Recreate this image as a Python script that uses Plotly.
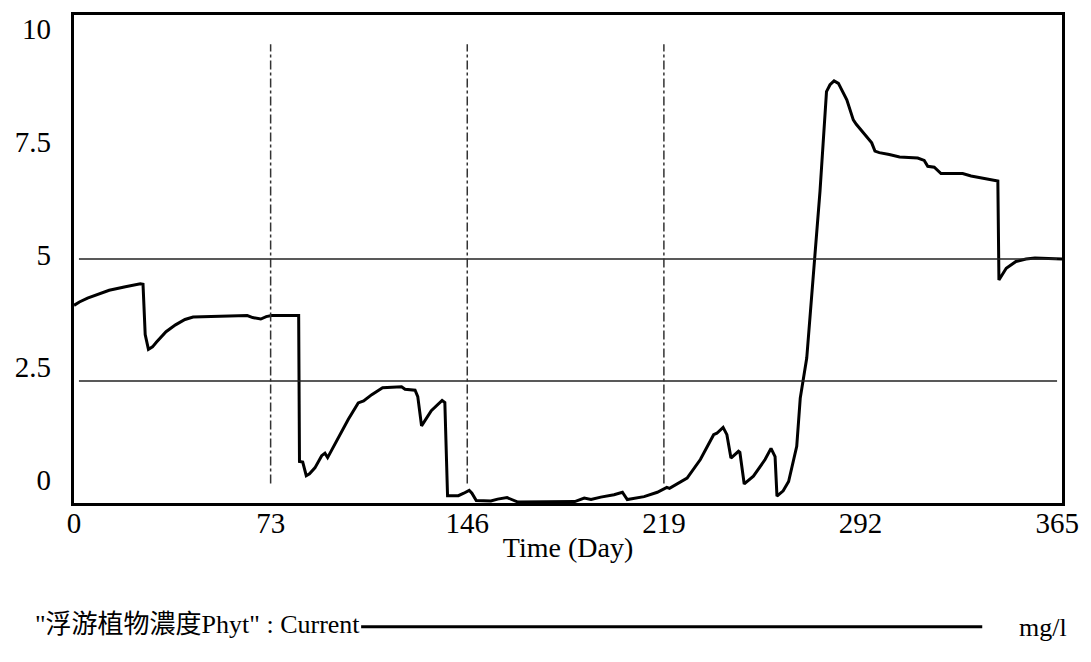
import plotly.graph_objects as go

# Simulated phytoplankton concentration over one year (Day, mg/l)
days = [0, 2, 5, 9, 13, 19, 24.5, 25.5, 26.3, 27.5, 29, 30.5, 34, 37.5, 41, 44,
        56, 64, 66, 69, 71, 73, 83, 83.3, 84.5, 85.8, 87, 89, 91.5, 92.7, 93.7,
        97.6, 101.3, 105, 107, 110, 114, 121, 122.3, 126, 127, 128.4, 132, 136,
        137, 138, 142, 144, 146, 147, 148.6, 154, 156.5, 160, 161.5, 164, 185,
        188.5, 191, 194.6, 199.5, 202.6, 204.4, 210.6, 215.5, 219, 220, 223,
        226.5, 231.4, 236.3, 237.5, 239.8, 241.2, 242.7, 245.5, 246, 247.6, 251,
        255.3, 257.5, 259, 259.7, 262, 264, 267, 268.3, 270.7, 273.8, 275.6,
        278, 279.3, 280.8, 282.4, 285.5, 287.9, 289, 291.6, 294.7, 295.9, 297.5,
        301.2, 305, 311.7, 314.1, 315.4, 317.8, 320.3, 328.3, 331.4, 334.5,
        338.2, 341.3, 341.7, 344.4, 348, 351.7, 355, 365]
phyt = [4.05, 4.12, 4.20, 4.28, 4.36, 4.43, 4.49, 4.48, 3.45, 3.15, 3.20, 3.30,
        3.51, 3.65, 3.76, 3.81, 3.82, 3.84, 3.80, 3.77, 3.82, 3.84, 3.84, 0.85,
        0.84, 0.56, 0.60, 0.72, 0.97, 1.02, 0.93, 1.33, 1.71, 2.05, 2.09, 2.22,
        2.36, 2.38, 2.33, 2.31, 2.18, 1.58, 1.89, 2.10, 2.06, 0.15, 0.15, 0.20,
        0.26, 0.20, 0.05, 0.04, 0.08, 0.11, 0.08, 0.02, 0.03, 0.10, 0.07, 0.12,
        0.17, 0.22, 0.07, 0.13, 0.22, 0.32, 0.30, 0.40, 0.51, 0.89, 1.40, 1.43,
        1.55, 1.40, 0.92, 1.06, 1.04, 0.39, 0.55, 0.89, 1.12, 0.95, 0.14, 0.25,
        0.44, 1.16, 2.15, 2.97, 5.02, 6.39, 8.43, 8.57, 8.65, 8.60, 8.26, 7.85,
        7.76, 7.58, 7.38, 7.21, 7.18, 7.14, 7.09, 7.07, 7.02, 6.90, 6.88, 6.75,
        6.75, 6.70, 6.67, 6.63, 6.60, 4.57, 4.81, 4.95, 5.00, 5.02, 5.00]

x_ticks = [0, 73, 146, 219, 292, 365]
y_ticks = [0, 2.5, 5, 7.5, 10]
y_tick_text = ["0", "2.5", "5", "7.5", "10"]
h_ref_levels = [2.5, 5]
v_ref_days = [73, 146, 219]

series_name = "\"浮游植物濃度Phyt\" : Current"
unit_text = "mg/l"

W, H = 1091, 662
L, R, T, B = 74, 26, 14, 159
PW, PH = W - L - R, H - T - B

SERIF = "Liberation Serif, Times New Roman, Noto Sans CJK TC, serif"


def px_x(x):
    return (x - L) / PW


def px_y(y):
    return (H - B - y) / PH


fig = go.Figure()

fig.add_trace(go.Scatter(
    x=days, y=phyt, mode="lines",
    line=dict(color="black", width=3),
    showlegend=False, hoverinfo="skip",
))

# labelling axes (tick labels only)
fig.add_trace(go.Scatter(
    x=[None], y=[None], xaxis="x2", yaxis="y2",
    showlegend=False, hoverinfo="skip",
))

for lv in h_ref_levels:
    fig.add_shape(type="line", xref="x domain", yref="y",
                  x0=0.005, x1=0.995, y0=lv, y1=lv,
                  line=dict(color="#222", width=1.5))

for d in v_ref_days:
    fig.add_shape(type="line", xref="x2", yref="y domain",
                  x0=d, x1=d, y0=0.04, y1=0.94,
                  line=dict(color="#333", width=1.5, dash="dashdot"))

axis_box = dict(showline=True, linecolor="black", linewidth=3, mirror=True,
                showgrid=False, zeroline=False, ticks="", showticklabels=False)

fig.update_layout(
    width=W, height=H,
    margin=dict(l=L, r=R, t=T, b=B),
    paper_bgcolor="white", plot_bgcolor="white",
    font=dict(family=SERIF, color="black"),
    xaxis=dict(range=[0, 365], **axis_box,
               title=dict(text="Time (Day)", font=dict(size=28, family=SERIF),
                          standoff=33)),
    yaxis=dict(range=[0, 10], **axis_box),
    xaxis2=dict(range=[0, 366.8], overlaying="x", anchor="y2", side="bottom",
                showline=False, showgrid=False, zeroline=False, ticks="",
                tickvals=x_ticks, ticktext=[str(t) for t in x_ticks],
                tickfont=dict(size=29, family=SERIF), ticklabelstandoff=0),
    yaxis2=dict(range=[-0.51, 10.31], overlaying="y", anchor="x2", side="left",
                showline=False, showgrid=False, zeroline=False, ticks="",
                tickvals=y_ticks, ticktext=y_tick_text,
                tickfont=dict(size=29, family=SERIF), ticklabelstandoff=22),
)

# series key below the chart
fig.add_annotation(text=series_name, xref="paper", yref="paper",
                   x=px_x(33), y=px_y(625), xanchor="left", yanchor="middle",
                   showarrow=False, font=dict(size=26, family=SERIF))
fig.add_shape(type="line", xref="paper", yref="paper",
              x0=px_x(362), x1=px_x(985), y0=px_y(627), y1=px_y(627),
              line=dict(color="black", width=3))
fig.add_annotation(text=unit_text, xref="paper", yref="paper",
                   x=px_x(1020), y=px_y(628), xanchor="left", yanchor="middle",
                   showarrow=False, font=dict(size=26, family=SERIF))

fig.write_html("out.html")
